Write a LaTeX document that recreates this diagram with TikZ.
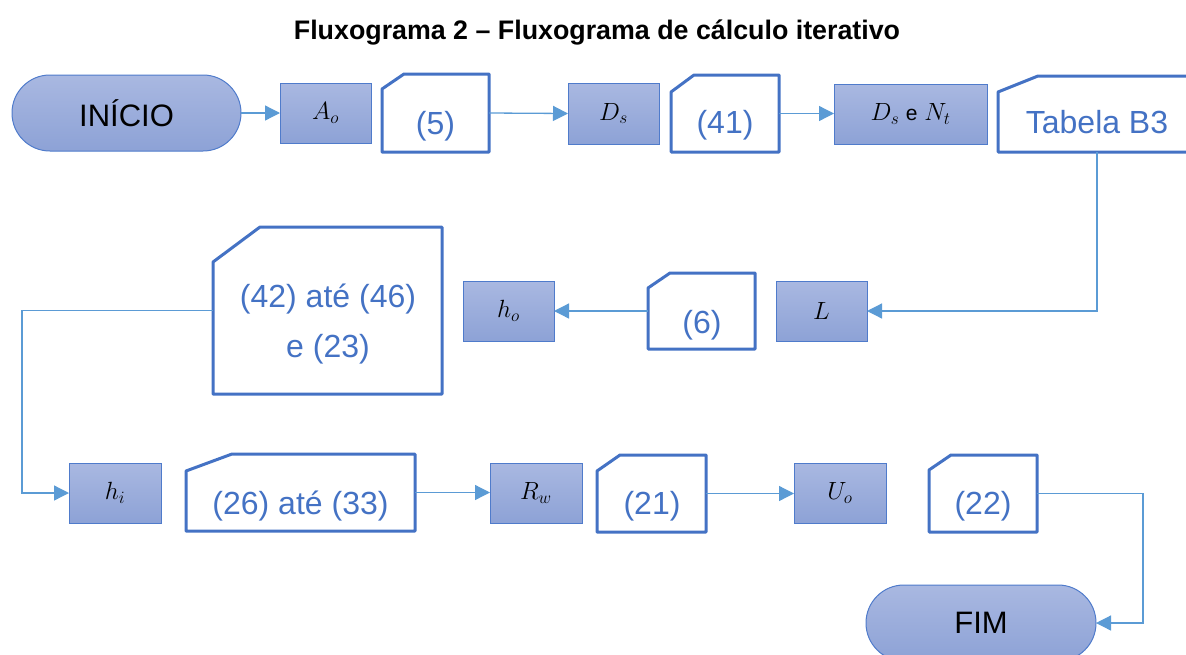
\documentclass[tikz,border=0pt]{standalone}
\usepackage{fontspec}
\setmainfont{Liberation Sans}
\usetikzlibrary{arrows.meta}
\definecolor{bord}{HTML}{4472C4}
\definecolor{cconn}{HTML}{5B9BD5}
\definecolor{gtop}{HTML}{A9B8E1}
\definecolor{gbot}{HTML}{8DA2D6}
\definecolor{bbord}{HTML}{4F7BCB}
\tikzset{
 proc/.style={rectangle, top color=gtop, bottom color=gbot, draw=bbord, line width=1pt, inner sep=0pt, outer sep=0pt, font=\fontsize{24}{28}\selectfont},
 term/.style={rectangle, rounded corners=37.9pt, top color=gtop, bottom color=gbot, draw=bbord, line width=1pt, minimum width=229pt, minimum height=76pt, inner sep=0pt, outer sep=0pt, font=\fontsize{31}{36}\selectfont},
 cardframe/.style={rectangle, inner sep=0pt, outer sep=0pt},
 cardline/.style={draw=bord, line width=3pt, line join=round},
 cardtext/.style={text=bord, anchor=base, inner sep=0pt, font=\fontsize{32}{38}\selectfont},
 link/.style={draw=cconn, line width=1.3pt, -{Triangle[length=15pt,width=15pt]}},
}
% #1 name, #2 x, #3 y, #4 w, #5 h, #6 corner dx, #7 corner dy
\newcommand{\mkcard}[7]{%
  \node[cardframe, minimum width=#4pt, minimum height=#5pt] (#1) at (#2,#3) {};
  \draw[cardline] (#1.south west) -- ([yshift=-#7pt]#1.north west) -- ([xshift=#6pt]#1.north west) -- (#1.north east) -- (#1.south east) -- cycle;
}
\begin{document}
\begin{tikzpicture}[x=1pt,y=-1pt]
\useasboundingbox (0,0) rectangle (1186,654);
\clip (0,0) rectangle (1186,654);

\node[font=\fontsize{26.8}{30}\selectfont\bfseries, anchor=base, inner sep=0pt] (title) at (597,39) {Fluxograma 2 – Fluxograma de cálculo iterativo};

% row 1
\node[term] (inicio) at (126.5,113) {INÍCIO};
\node[proc, minimum width=91pt, minimum height=60pt] (ao) at (325.5,113) {$A_o$};
\mkcard{c5}{435.5}{113}{107}{78}{22}{15}
\node[cardtext] (t5) at (435.5,134.5) {(5)};
\node[proc, minimum width=91pt, minimum height=61pt] (ds) at (613.5,113.5) {$D_s$};
\mkcard{c41}{725}{113.5}{108}{77}{23}{17}
\node[cardtext] (t41) at (725,133.5) {(41)};
\node[proc, minimum width=153pt, minimum height=60pt] (dsnt) at (910.5,114) {$D_s$ {\fontsize{21}{24}\selectfont e} $N_t$};
\mkcard{ctab}{1099}{114}{202}{76}{40}{16}
\node[cardtext] (ttab) at (1097,133) {Tabela B3};

% row 2
\mkcard{c4246}{327.5}{310.5}{229}{167}{47}{35}
\node[cardtext] (t4246a) at (328,307.5) {(42) até (46)};
\node[cardtext] (t4246b) at (328,357) {e (23)};
\node[proc, minimum width=91pt, minimum height=60pt] (ho) at (508.5,311) {$h_o$};
\mkcard{c6}{701.5}{311}{107}{76}{22}{15}
\node[cardtext] (t6) at (702,333.5) {(6)};
\node[proc, minimum width=91pt, minimum height=60pt] (l) at (821.5,311) {$L$};

% row 3
\node[proc, minimum width=92pt, minimum height=60pt] (hi) at (115,493) {$h_i$};
\mkcard{c2633}{300.5}{492.5}{229}{77}{46}{17}
\node[cardtext] (t2633) at (300.5,514.5) {(26) até (33)};
\node[proc, minimum width=92pt, minimum height=60pt] (rw) at (536,493) {$R_w$};
\mkcard{c21}{651.5}{493.5}{109}{77}{23}{16}
\node[cardtext] (t21) at (652,514.5) {(21)};
\node[proc, minimum width=92pt, minimum height=60pt] (uo) at (840,493) {$U_o$};
\mkcard{c22}{983}{493.5}{108}{77}{22}{15}
\node[cardtext] (t22) at (983,514.5) {(22)};
\node[term, minimum width=230pt] (fim) at (981,623) {FIM};

% connectors
\draw[link] (inicio.east) -- (ao.west);
\draw[link] (c5.east) -- (ds.west);
\draw[link] (c41.east) -- (c41.east -| dsnt.west);
\coordinate (tabfoot) at (1097,152);
\draw[link] (tabfoot) |- (l.east);
\draw[link] (c6.west) -- (c6.west -| ho.east);
\coordinate (k1) at (22,310.5);
\draw[link] (c4246.west) -- (k1) |- (hi.west);
\draw[link] (c2633.east) -- (c2633.east -| rw.west);
\draw[link] (c21.east) -- (c21.east -| uo.west);
\coordinate (k2) at (1143,493.5);
\draw[link] (c22.east) -- (k2) |- (fim.east);
\end{tikzpicture}
\end{document}
